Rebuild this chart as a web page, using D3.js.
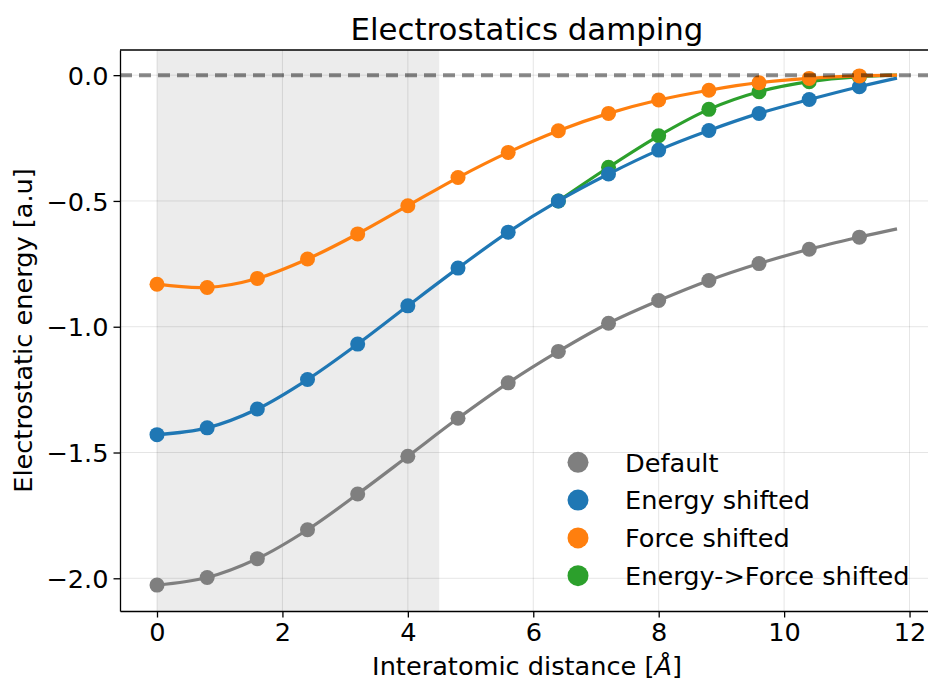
<!DOCTYPE html>
<html>
<head>
<meta charset="utf-8">
<script src="https://cdn.jsdelivr.net/npm/d3@7"></script>
<style>
  body { margin: 0; background: #fff; }
  text { font-family: "DejaVu Sans", sans-serif; fill: #000; }
</style>
</head>
<body>
<div id="chart"></div>
<script>
// distances (Å): markers every 0.8, curves run on to 11.8
var distance = [0, 0.8, 1.6, 2.4, 3.2, 4.0, 4.8, 5.6, 6.4, 7.2, 8.0, 8.8, 9.6, 10.4, 11.2, 11.8];
var defaultEnergy = [-2.027, -1.997, -1.922, -1.807, -1.665, -1.515, -1.364, -1.223, -1.098, -0.986, -0.896, -0.816, -0.749, -0.692, -0.644, -0.611];
var energyShifted = [-1.429, -1.402, -1.327, -1.210, -1.069, -0.917, -0.767, -0.624, -0.500, -0.393, -0.298, -0.220, -0.152, -0.097, -0.046, -0.012];
var forceShifted = [-0.831, -0.844, -0.808, -0.731, -0.631, -0.519, -0.407, -0.307, -0.221, -0.152, -0.099, -0.060, -0.030, -0.013, -0.003, 0];
// switched series only exists from 6.4 on
var switchDistance = [6.4, 7.2, 8.0, 8.8, 9.6, 10.4, 11.2, 11.8];
var energyToForce = [-0.500, -0.366, -0.241, -0.136, -0.066, -0.026, -0.006, 0];

var xTicks = [0, 2, 4, 6, 8, 10, 12];
var yTicks = [-2.0, -1.5, -1.0, -0.5, 0.0];
var shadeRange = [0, 4.5];
var legendLabels = ["Default", "Energy shifted", "Force shifted", "Energy->Force shifted"];

function drawChart() {
  var width = 928, height = 681;
  var margin = { top: 50, right: -6, bottom: 70, left: 120 };
  var fontSize = 25.6;

  var svg = d3.select("#chart").append("svg")
    .attr("width", width)
    .attr("height", height);

  var x = d3.scaleLinear().domain([-0.59, 12.39]).range([margin.left, width - margin.right]);
  var y = d3.scaleLinear().domain([-2.13, 0.1]).range([height - margin.bottom, margin.top]);

  var plot = svg.append("g");

  // shaded short-range region
  plot.append("rect")
    .attr("x", x(shadeRange[0]))
    .attr("y", y.range()[1])
    .attr("width", x(shadeRange[1]) - x(shadeRange[0]))
    .attr("height", y.range()[0] - y.range()[1])
    .attr("fill", "#ececec");

  // grid
  plot.selectAll(".gx").data(xTicks).enter().append("line")
    .attr("x1", function (d) { return x(d); })
    .attr("x2", function (d) { return x(d); })
    .attr("y1", y.range()[0]).attr("y2", y.range()[1])
    .attr("stroke", "#000").attr("stroke-opacity", 0.1).attr("stroke-width", 1);
  plot.selectAll(".gy").data(yTicks).enter().append("line")
    .attr("y1", function (d) { return y(d); })
    .attr("y2", function (d) { return y(d); })
    .attr("x1", x.range()[0]).attr("x2", x.range()[1])
    .attr("stroke", "#000").attr("stroke-opacity", 0.1).attr("stroke-width", 1);

  var series = [
    { xs: distance, ys: defaultEnergy, color: "#7f7f7f" },
    { xs: switchDistance, ys: energyToForce, color: "#2ca02c" },
    { xs: distance, ys: energyShifted, color: "#1f77b4" },
    { xs: distance, ys: forceShifted, color: "#ff7f0e" }
  ];

  var line = d3.line()
    .x(function (d) { return x(d[0]); })
    .y(function (d) { return y(d[1]); })
    .curve(d3.curveCatmullRom.alpha(0.5));

  series.forEach(function (s) {
    var pts = s.xs.map(function (v, i) { return [v, s.ys[i]]; });
    plot.append("path")
      .attr("d", line(pts))
      .attr("fill", "none")
      .attr("stroke", s.color)
      .attr("stroke-width", 3.2);
    // no marker at the 11.8 end point
    plot.selectAll(null).data(pts.filter(function (p) { return p[0] <= 11.2; }))
      .enter().append("circle")
      .attr("cx", function (d) { return x(d[0]); })
      .attr("cy", function (d) { return y(d[1]); })
      .attr("r", 7.5)
      .attr("fill", s.color);
  });

  // zero reference line
  plot.append("line")
    .attr("x1", x.range()[0]).attr("x2", x.range()[1])
    .attr("y1", y(0)).attr("y2", y(0))
    .attr("stroke", "#000").attr("stroke-opacity", 0.45)
    .attr("stroke-width", 4)
    .attr("stroke-dasharray", "12,7");

  // axes
  var xAxis = svg.append("g")
    .attr("transform", "translate(0," + y.range()[0] + ")")
    .call(d3.axisBottom(x).tickValues(xTicks).tickFormat(d3.format("d")).tickSizeInner(6.5).tickSizeOuter(0).tickPadding(5));
  var yAxis = svg.append("g")
    .attr("transform", "translate(" + x.range()[0] + ",0)")
    .call(d3.axisLeft(y).tickValues(yTicks).tickFormat(d3.format(".1f")).tickSizeInner(6.5).tickSizeOuter(0).tickPadding(5));
  [xAxis, yAxis].forEach(function (a) {
    a.selectAll("text").style("font-family", "DejaVu Sans").style("font-size", fontSize + "px").attr("fill", "#000");
    a.selectAll("line").attr("stroke", "#000").attr("stroke-width", 1.3);
    a.select(".domain").attr("stroke", "#000").attr("stroke-width", 1.3);
  });
  yAxis.selectAll("text").attr("dy", "0.36em");

  // top spine
  svg.append("line")
    .attr("x1", x.range()[0]).attr("x2", x.range()[1])
    .attr("y1", y.range()[1]).attr("y2", y.range()[1])
    .attr("stroke", "#000").attr("stroke-width", 1.3);

  // title and labels
  svg.append("text")
    .attr("x", (x.range()[0] + x.range()[1]) / 2)
    .attr("y", 40)
    .attr("text-anchor", "middle")
    .style("font-size", "30.8px")
    .text("Electrostatics damping");

  var xl = svg.append("text")
    .attr("x", (x.range()[0] + x.range()[1]) / 2)
    .attr("y", 675)
    .attr("text-anchor", "middle")
    .style("font-size", fontSize + "px");
  xl.append("tspan").text("Interatomic distance [");
  xl.append("tspan").style("font-style", "italic").text("Å");
  xl.append("tspan").text("]");

  svg.append("text")
    .attr("transform", "translate(32," + (y.range()[0] + y.range()[1]) / 2 + ") rotate(-90)")
    .attr("text-anchor", "middle")
    .style("font-size", fontSize + "px")
    .text("Electrostatic energy [a.u]");

  // legend
  var legendColors = ["#7f7f7f", "#1f77b4", "#ff7f0e", "#2ca02c"];
  var legend = svg.append("g");
  legendLabels.forEach(function (label, i) {
    var cy = 462.3 + i * 37.8;
    legend.append("circle").attr("cx", 578).attr("cy", cy).attr("r", 10.5).attr("fill", legendColors[i]);
    legend.append("text").attr("x", 625).attr("y", cy).attr("dy", "0.36em")
      .style("font-size", fontSize + "px").text(label);
  });
}

drawChart();
</script>
</body>
</html>
